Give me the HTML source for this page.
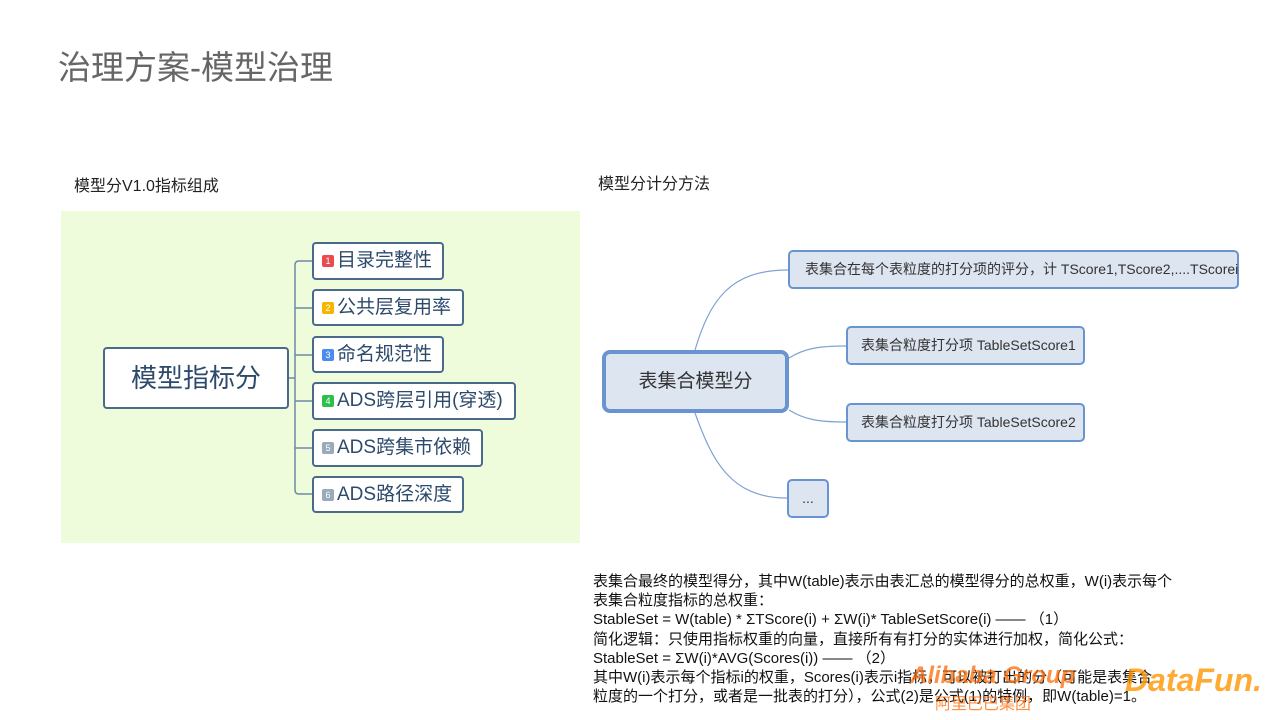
<!DOCTYPE html>
<html><head><meta charset="utf-8"><style>
body{margin:0;width:1280px;height:720px;background:#fff;position:relative;overflow:hidden;font-family:"Liberation Sans","Noto Sans CJK SC",sans-serif;}
.a{position:absolute;box-sizing:border-box;}
.l{border:2px solid #4a6a8c;border-radius:4px;background:#fff;color:#2d4a6b;font-size:19px;line-height:33px;padding-left:8px;white-space:nowrap;}
.n{display:inline-block;width:12px;height:12px;border-radius:2px;color:#fff;font-size:9px;line-height:12px;text-align:center;vertical-align:2px;margin-right:3px;}
.r{border:2px solid #6a94d0;border-radius:5px;background:#dde5f1;color:#333;font-size:14px;white-space:nowrap;}
</style></head><body>
<div class="a" style="left:58px;top:41px;font-size:33px;color:#666;">治理方案-模型治理</div>
<div class="a" style="left:74px;top:172px;font-size:16px;color:#222;">模型分V1.0指标组成</div>
<div class="a" style="left:598px;top:170px;font-size:16px;color:#222;">模型分计分方法</div>
<div class="a" style="left:61px;top:211px;width:519px;height:332px;background:#effcdc;"></div>
<svg class="a" style="left:0;top:0" width="1280" height="720">
<g fill="none" stroke="#6e8aa6" stroke-width="1.5">
<line x1="289" y1="378" x2="295" y2="378"/>
<path d="M312 261 H299 Q295 261 295 265 V490 Q295 494 299 494 H312"/>
<path d="M295 308 H312 M295 355 H312 M295 401 H312 M295 448 H312"/>
</g>
<g fill="none" stroke="#7fa2d4" stroke-width="1.2">
<path d="M695 350 C 710 300, 730 270, 788 270"/>
<path d="M789 358 C 805 348, 820 346, 846 346"/>
<path d="M789 410 C 805 420, 820 422, 846 422"/>
<path d="M695 413 C 712 460, 730 498, 787 498"/>
</g>
</svg>
<div class="a l" style="left:103px;top:347px;width:186px;height:62px;font-size:26px;line-height:58px;text-align:center;padding:0;">模型指标分</div>
<div class="a l" style="left:312px;top:242px;width:132px;height:38px;"><span class="n" style="background:#e84c4c">1</span>目录完整性</div>
<div class="a l" style="left:312px;top:289px;width:152px;height:37px;"><span class="n" style="background:#f7b500">2</span>公共层复用率</div>
<div class="a l" style="left:312px;top:336px;width:132px;height:37px;"><span class="n" style="background:#4a8cf0">3</span>命名规范性</div>
<div class="a l" style="left:312px;top:382px;width:204px;height:38px;"><span class="n" style="background:#2cc04a">4</span>ADS跨层引用(穿透)</div>
<div class="a l" style="left:312px;top:429px;width:171px;height:38px;"><span class="n" style="background:#9aaab8">5</span>ADS跨集市依赖</div>
<div class="a l" style="left:312px;top:476px;width:152px;height:37px;"><span class="n" style="background:#9aaab8">6</span>ADS路径深度</div>
<div class="a r" style="left:602px;top:350px;width:187px;height:63px;border-width:4px;border-radius:8px;font-size:19px;line-height:55px;text-align:center;color:#333;">表集合模型分</div>
<div class="a r" style="left:788px;top:250px;width:451px;height:39px;line-height:35px;padding-left:15px;">表集合在每个表粒度的打分项的评分，计 TScore1,TScore2,....TScorei</div>
<div class="a r" style="left:846px;top:326px;width:239px;height:39px;line-height:35px;padding-left:13px;">表集合粒度打分项 TableSetScore1</div>
<div class="a r" style="left:846px;top:403px;width:239px;height:39px;line-height:35px;padding-left:13px;">表集合粒度打分项 TableSetScore2</div>
<div class="a r" style="left:787px;top:479px;width:42px;height:39px;line-height:35px;text-align:center;">...</div>
<div class="a" style="left:593px;top:572px;font-size:15px;line-height:19.2px;color:#111;white-space:nowrap;">
表集合最终的模型得分，其中W(table)表示由表汇总的模型得分的总权重，W(i)表示每个<br>
表集合粒度指标的总权重：<br>
StableSet = W(table) * ΣTScore(i) + ΣW(i)* TableSetScore(i) —— （1）<br>
简化逻辑：只使用指标权重的向量，直接所有有打分的实体进行加权，简化公式：<br>
StableSet = ΣW(i)*AVG(Scores(i)) —— （2）<br>
其中W(i)表示每个指标i的权重，Scores(i)表示i指标，可以被打出的分（可能是表集合<br>
粒度的一个打分，或者是一批表的打分），公式(2)是公式(1)的特例，即W(table)=1。
</div>
<div class="a" style="left:910px;top:662px;font-size:24px;font-weight:bold;font-style:italic;color:rgba(255,106,0,0.75);">Alibaba Group</div>
<div class="a" style="left:935px;top:690px;font-size:16px;color:rgba(255,106,0,0.75);">阿里巴巴集团</div>
<div class="a" style="left:1125px;top:662px;font-size:32px;font-weight:bold;font-style:italic;color:rgba(255,150,0,0.8);">DataFun.</div>
</body></html>
